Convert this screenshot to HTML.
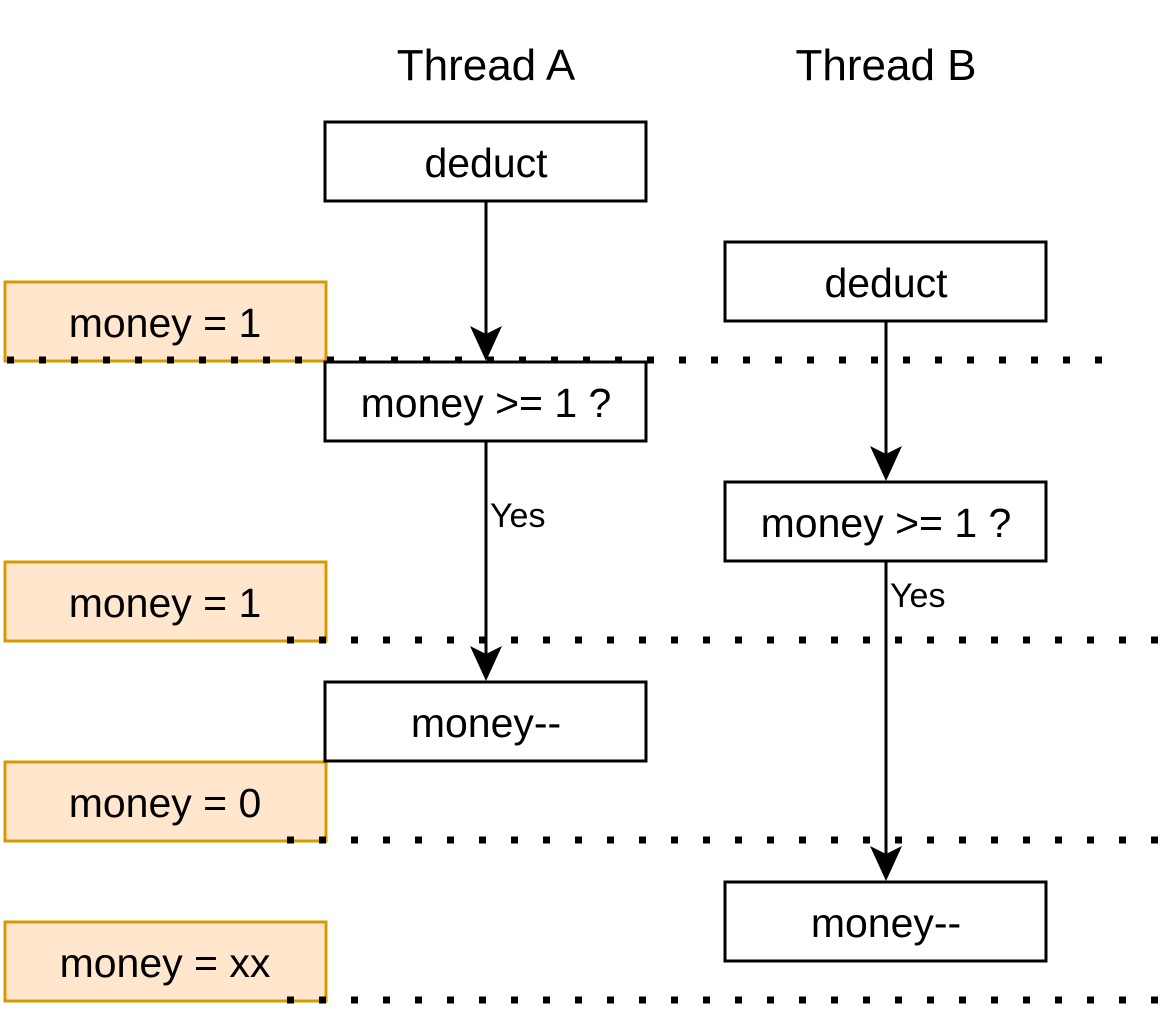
<!DOCTYPE html>
<html><head><style>
html,body{margin:0;padding:0;background:#fff;}
svg text{font-family:"Comic Sans MS","Liberation Sans",sans-serif;fill:#000;}
</style></head><body>
<svg width="1176" height="1008" viewBox="0 0 1176 1008" xmlns="http://www.w3.org/2000/svg">
<g font-size="44" text-anchor="middle">
<text x="486" y="80">Thread A</text>
<text x="886" y="80">Thread B</text>
</g>
<g fill="#ffe6cc" stroke="#d79b00" stroke-width="3">
<rect x="5" y="282" width="321" height="79"/>
<rect x="5" y="562" width="321" height="79"/>
<rect x="5" y="762" width="321" height="79"/>
<rect x="5" y="922" width="321" height="79"/>
</g>
<g fill="#fff" stroke="#000" stroke-width="3">
<rect x="325" y="122" width="321" height="79"/>
<rect x="325" y="362" width="321" height="79"/>
<rect x="325" y="682" width="321" height="79"/>
<rect x="725" y="242" width="321" height="79"/>
<rect x="725" y="482" width="321" height="79"/>
<rect x="725" y="882" width="321" height="79"/>
</g>
<g stroke="#000" stroke-width="7" stroke-dasharray="7 25">
<line x1="7" y1="360" x2="1105" y2="360"/>
<line x1="287" y1="640" x2="1160" y2="640"/>
<line x1="287" y1="840" x2="1160" y2="840"/>
<line x1="287" y1="1000" x2="1160" y2="1000"/>
</g>
<g stroke="#000" stroke-width="3" fill="none">
<line x1="486" y1="201" x2="486" y2="334"/>
<line x1="486" y1="441" x2="486" y2="654"/>
<line x1="886" y1="321" x2="886" y2="454"/>
<line x1="886" y1="561" x2="886" y2="854"/>
</g>
<g fill="#000">
<path d="M470,326 L486,361 L502,326 L486,334 z"/>
<path d="M470,646 L486,681 L502,646 L486,654 z"/>
<path d="M870,446 L886,481 L902,446 L886,454 z"/>
<path d="M870,846 L886,881 L902,846 L886,854 z"/>
</g>
<g font-size="41" text-anchor="middle">
<text x="165" y="337">money = 1</text>
<text x="165" y="617">money = 1</text>
<text x="165" y="817">money = 0</text>
<text x="165" y="977">money = xx</text>
<text x="486" y="177">deduct</text>
<text x="486" y="417">money &gt;= 1 ?</text>
<text x="486" y="737">money--</text>
<text x="886" y="297">deduct</text>
<text x="886" y="537">money &gt;= 1 ?</text>
<text x="886" y="937">money--</text>
</g>
<g font-size="34">
<text x="490" y="527">Yes</text>
<text x="890" y="607">Yes</text>
</g>
</svg>
</body></html>
